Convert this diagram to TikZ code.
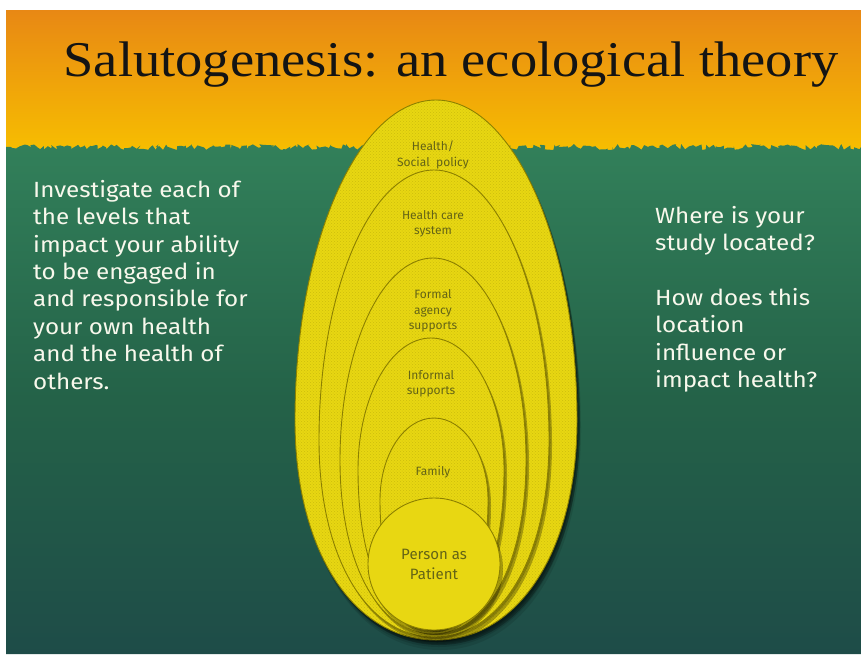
\documentclass[tikz,border=0pt]{standalone}
\usepackage{fontspec}
\setmainfont{Liberation Serif}
\newfontfamily\bodyfont{Fira Sans}
\newfontfamily\sidefont[FakeStretch=1.1]{Fira Sans}
\usetikzlibrary{decorations.pathmorphing,patterns}
\definecolor{orTop}{RGB}{232,136,20}
\definecolor{orBot}{RGB}{247,190,0}
\definecolor{grTop}{RGB}{50,128,90}
\definecolor{grMid}{RGB}{36,98,72}
\definecolor{grBot}{RGB}{30,76,72}
\definecolor{eggfill}{RGB}{232,215,18}
\definecolor{eggedge}{RGB}{140,128,0}
\definecolor{labelc}{RGB}{100,100,22}
\definecolor{textc}{RGB}{248,248,236}
% egg outline: cx, top, widest y, bottom, half width
\newcommand\eggpath[5]{%
  (#1,#2) .. controls ({#1+0.552*#5},#2) and ({#1+#5},{#3-0.552*(#3-#2)}) ..
  ({#1+#5},#3) .. controls ({#1+#5},{#3+0.6*(#4-#3)}) and ({#1+0.58*#5},#4) ..
  (#1,#4) .. controls ({#1-0.58*#5},#4) and ({#1-#5},{#3+0.6*(#4-#3)}) ..
  ({#1-#5},#3) .. controls ({#1-#5},{#3-0.552*(#3-#2)}) and ({#1-0.552*#5},#2) ..
  cycle}
\newcommand\egglayer[5]{%
  \fill[black,opacity=0.28] [shift={(3,5)}] \eggpath{#1}{#2}{#3}{#4}{#5};
  \fill[black,opacity=0.18] [shift={(1.5,2.5)}] \eggpath{#1}{#2}{#3}{#4}{#5};
  \filldraw[fill=eggfill,draw=eggedge,line width=0.9pt] \eggpath{#1}{#2}{#3}{#4}{#5};
  \fill[pattern=crosshatch dots,pattern color=eggedge,opacity=0.3] \eggpath{#1}{#2}{#3}{#4}{#5};}
\tikzset{
  bodytext/.style={font=\sidefont\fontsize{22}{27.4}\selectfont,text=textc,align=left,inner sep=0pt,anchor=north west},
  egglabel/.style={font=\bodyfont\fontsize{12}{15.5}\selectfont,text=labelc,align=center,inner sep=0pt}
}
\begin{document}
\begin{tikzpicture}[x=1pt,y=-1pt]
\useasboundingbox (0,0) rectangle (861,654);
\fill[white] (0,0) rectangle (861,654);
% orange band
\shade[top color=orTop,bottom color=orBot] (6,10) rectangle (861,152);
% green body with ragged top
\pgfmathsetseed{11}
\shade[top color=grTop,bottom color=grBot,middle color=grMid]
  (6,654) -- (6,147) decorate[decoration={random steps,segment length=2.5pt,amplitude=3pt}]{ -- (861,147)} -- (861,654) -- cycle;
% soft shadow under the whole figure
\foreach \d/\o in {10/0.10,7/0.12,4/0.15}{
  \fill[black,opacity=\o] [shift={(\d*0.4,\d)}] \eggpath{436}{100}{420}{640}{141};
}
% nested layers
\egglayer{436}{100}{420}{640}{141}
\egglayer{434}{170}{440}{637}{115}
\egglayer{433}{258}{460}{634}{93}
\egglayer{431}{338}{470}{630}{73}
\egglayer{434}{418}{500}{627}{54}
% person circle
\fill[black,opacity=0.28] (437,569) circle (66);
\filldraw[fill=eggfill,draw=eggedge,line width=0.9pt] (434,564) circle (66);
% title
\node[anchor=base,font=\fontsize{50}{60}\selectfont,text=black!92,inner sep=0pt] (title) at (451,76) {\scalebox{1.09}[1]{Salutogenesis: an ecological theory}};
% side texts
\node[bodytext] (lefttext) at (33,180) {Investigate each of\\the levels that\\impact your ability\\to be engaged in\\and responsible for\\your own health\\and the health of\\others.};
\node[bodytext] (righttext) at (655,206) {Where is your\\study located?\\[27.4pt]How does this\\location\\influence or\\impact health?};
% layer labels
\node[egglabel] (l1) at (433,155) {Health/\\Social\ \ policy};
\node[egglabel] (l2) at (433,224) {Health care\\system};
\node[egglabel] (l3) at (433,311) {Formal\\agency\\supports};
\node[egglabel] (l4) at (431,384) {Informal\\supports};
\node[egglabel] (l5) at (433,472) {Family};
\node[egglabel,font=\bodyfont\fontsize{15}{20}\selectfont] (l6) at (434,564) {Person as\\Patient};
\end{tikzpicture}
\end{document}
